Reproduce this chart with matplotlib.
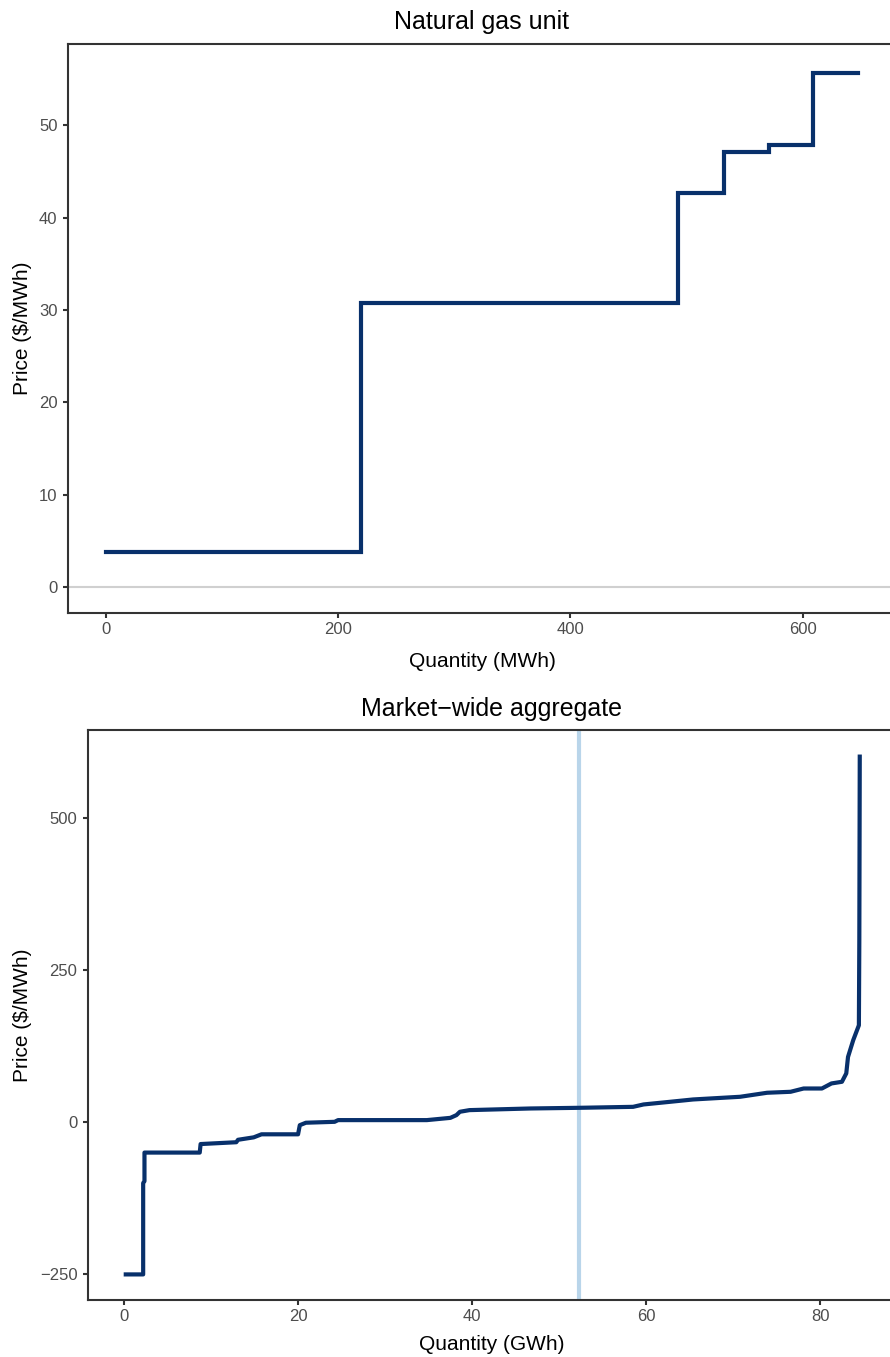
import matplotlib.pyplot as plt

plt.rcParams["font.family"] = ["Liberation Sans", "DejaVu Sans"]

# Natural gas unit: offer steps (MWh edges, $/MWh price of each step)
unit_q_edges = [0, 220, 493, 532, 571, 609, 648]
unit_prices = [3.8, 30.8, 42.7, 47.1, 47.9, 55.7]

# Market-wide aggregate supply curve (GWh, $/MWh)
mkt_q = [0.2, 2.2, 2.2, 2.35, 2.35, 8.7, 8.8, 12.9, 13.1, 14.9, 15.8, 20.0,
         20.2, 20.9, 24.2, 24.6, 34.8, 37.5, 38.2, 38.6, 39.7, 46.7, 52.3,
         58.5, 59.7, 62.5, 65.4, 70.8, 73.9, 76.6, 78.1, 80.2, 81.3, 82.5,
         83.0, 83.2, 83.8, 84.45, 84.5, 84.55]
mkt_p = [-250, -250, -100, -97, -50, -50, -36, -33, -29, -25, -20, -20,
         -5, -1, 0.5, 3.3, 3.3, 7, 11.5, 17, 19.7, 22.4, 23.5,
         25.1, 29, 33, 37.2, 41.6, 48.2, 49.8, 55.2, 55.2, 63.5, 66.2,
         80, 107, 134.6, 159, 300, 600]
clearing_q = 52.3

navy = "#08306b"
light_blue = "#b9d5ea"
spine_col = "#333333"
tick_col = "#4d4d4d"

fig = plt.figure(figsize=(8.9, 13.57), dpi=100)

W, H = 890.0, 1357.0
ax1 = fig.add_axes([68 / W, (H - 613) / H, 828 / W, 569 / H])
ax2 = fig.add_axes([88 / W, (H - 1300) / H, 807 / W, 570 / H])


def style(ax):
    for s in ax.spines.values():
        s.set_color(spine_col)
        s.set_linewidth(1.5)
    ax.tick_params(axis="both", colors=spine_col, labelcolor=tick_col,
                   labelsize=12, length=3.6, width=1.5)
    ax.tick_params(axis="y", pad=4)
    ax.tick_params(axis="x", pad=3)


# top panel
ax1.axhline(0, color="#d0d0d0", linewidth=1.5, zorder=1)
ax1.step(unit_q_edges, unit_prices + [unit_prices[-1]], where="post",
         color=navy, linewidth=3.0, solid_joinstyle="miter", zorder=3)
ax1.set_xlim(-32.4, 680.4)
ax1.set_ylim(-2.8, 58.8)
ax1.set_xticks([0, 200, 400, 600])
ax1.set_yticks([0, 10, 20, 30, 40, 50])
ax1.set_title("Natural gas unit", fontsize=18, pad=10.5)
ax1.set_xlabel("Quantity (MWh)", fontsize=15)
ax1.set_ylabel("Price ($/MWh)", fontsize=15)
ax1.xaxis.set_label_coords(0.5, -0.068)
ax1.yaxis.set_label_coords(-0.0435, 0.5)
style(ax1)

# bottom panel
ax2.axvline(clearing_q, color=light_blue, linewidth=3, zorder=1)
ax2.plot(mkt_q, mkt_p, color=navy, linewidth=3.0, zorder=3)
ax2.set_xlim(-4.14, 88.6)
ax2.set_ylim(-292, 643.7)
ax2.set_xticks([0, 20, 40, 60, 80])
ax2.set_yticks([-250, 0, 250, 500])
ax2.set_title("Market\u2212wide aggregate", fontsize=18, pad=10)
ax2.set_xlabel("Quantity (GWh)", fontsize=15)
ax2.set_ylabel("Price ($/MWh)", fontsize=15)
ax2.xaxis.set_label_coords(0.5, -0.062)
ax2.yaxis.set_label_coords(-0.069, 0.5)
style(ax2)

fig.savefig("out.png", dpi=100)
